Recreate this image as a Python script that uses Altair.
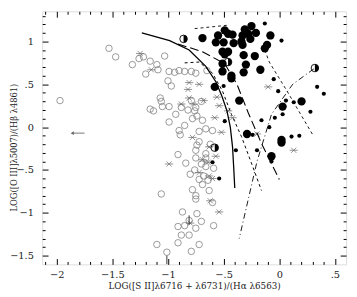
import altair as alt
import pandas as pd

# ---------------- data ----------------
open_x = [-1.53, -1.47, -1.32, -1.26, -1.22, -1.16, -1.10, -1.03, -1.09, -1.97, -0.99, -0.94, -0.90, -0.85, -0.79,
          -0.75, -1.00, -0.97, -1.07, -1.06, -1.13, -0.99, -1.05, -0.99, -0.88, -0.79, -0.75, -0.74, -0.78, -0.82,
          -0.90, -0.89, -0.69, -0.66, -0.60, -0.72, -0.74, -0.75, -0.66, -0.91, -0.84, -0.75, -0.66, -0.76, -0.66,
          -0.59, -0.68, -0.72, -0.78, -0.75, -0.75, -0.63, -0.69, -1.06, -0.60, -0.59, -0.87, -0.85, -0.81, -0.91,
          -0.88, -0.81, -0.91, -0.79, -0.72, -1.10, -1.01, -0.74, -0.75, -0.70, -1.16, -0.76, -0.70, -0.65, -0.85,
          -0.62, -0.80, -0.70, -1.20, -0.93, -0.72, -0.64]
open_y = [0.92, 0.82, 0.73, 0.80, 0.82, 0.77, 0.73, 0.83, 0.67, 0.31, 0.65, 0.64, 0.66, 0.65, 0.65,
          0.63, 0.54, 0.48, 0.34, 0.30, 0.19, 0.06, 0.24, 0.24, 0.23, 0.31, 0.23, 0.13, 0.10, 0.20,
          -0.04, -0.09, 0.08, -0.02, -0.04, -0.17, -0.21, -0.27, -0.31, -0.32, -0.42, -0.36, -0.36, -0.50, -0.46,
          -0.48, -0.57, -0.61, -0.73, -0.80, -0.84, -0.74, -0.67, -0.78, -0.88, -1.15, -0.99, -1.15, -1.09, -1.16,
          -1.26, -1.26, -1.35, -1.45, -1.37, -1.37, -1.46, -1.01, -1.18, -1.10, 0.21, 0.19, 0.30, 0.66, 0.02,
          -0.20, -0.55, -0.43, 0.62, 0.15, -0.05, -0.62]

cross_x = [-1.25, -1.15, -0.81, -0.82, -0.81, -0.77, -0.88, -0.68, -0.72, -0.56, -0.54, -0.58, -0.46, -0.42,
           -0.52, -0.78, -0.99, -0.69, -0.63, -0.57, -0.72, -0.63, -0.54, -0.10, -0.64, -0.60, -0.80, -0.20,
           0.13, -0.62]
cross_y = [0.86, 0.67, 0.52, 0.44, 0.34, 0.27, 0.27, 0.31, 0.50, 0.35, 0.25, 0.11, 0.19, 0.11,
           -0.06, -0.12, -0.43, -0.38, -0.23, -0.34, -0.53, -0.57, -0.99, 0.47, -0.41, -0.60, -1.12, -0.08,
           -0.27, -0.86]

big_x = [-0.69, -0.55, -0.49, -0.46, -0.42, -0.57, -0.50, -0.41, -0.33, -0.28, -0.25, -0.21, -0.31, -0.34,
         -0.26, -0.08, -0.11, -0.13, -0.33, -0.51, -0.46, -0.49, -0.32, -0.22, -0.30, -0.51, -0.17, -0.32,
         -0.51, -0.43, -0.43, -0.58, -0.36, -0.29, 0.03, 0.20, 0.02, 0.02, -0.07]
big_y = [1.04, 1.07, 1.13, 1.09, 1.08, 0.99, 0.99, 0.98, 1.07, 1.09, 1.18, 1.10, 1.14, 1.00,
         1.03, 1.07, 0.96, 0.92, 0.96, 0.88, 0.88, 0.85, 0.84, 0.83, 0.73, 0.74, 0.67, 0.64,
         0.65, 0.60, 0.57, 0.47, 0.31, -0.08, 0.24, 0.30, -0.18, -0.15, -0.34]

small_x = [-0.13, 0.02, -0.05, -0.01, 0.06, 0.13, 0.34, 0.40, 0.28, 0.03, -0.04, -0.16, -0.09, -0.49,
           -0.50, -0.24, -0.39, -0.20, 0.11, 0.18, -0.54, -0.07, -0.60]
small_y = [1.21, 1.01, 0.56, 0.42, 0.31, 0.29, 0.47, 0.39, 0.18, 0.15, 0.11, 0.08, 0.00, 0.07,
           0.48, -0.09, -0.27, -0.27, -0.11, -0.10, -0.60, -0.40, -0.41]

half_x = [-0.86, -0.46, -0.58, 0.32]
half_y = [1.03, 0.76, -0.24, 0.69]

solid_x = [-1.235, -0.985, -0.81, -0.66, -0.57, -0.515, -0.47, -0.44, -0.42, -0.41, -0.40]
solid_y = [1.10, 1.01, 0.90, 0.71, 0.53, 0.36, 0.19, 0.00, -0.23, -0.46, -0.71]

longdash_x = [-0.91, -0.69, -0.49, -0.38, -0.28, -0.16, 0.00]
longdash_y = [0.97, 0.88, 0.74, 0.50, 0.17, -0.19, -0.61]

shortdash_x = [-0.85, -0.72, -0.60, -0.51, -0.43, -0.34, -0.25, -0.16]
shortdash_y = [0.75, 0.76, 0.63, 0.42, 0.15, -0.11, -0.42, -0.74]

topdash_x = [-0.76, -0.46]
topdash_y = [1.15, 1.19]

rightdash_x = [-0.13, -0.09, 0.07, 0.31]
rightdash_y = [0.90, 0.76, 0.42, -0.11]

dashdot_x = [0.31, 0.12, -0.07, -0.20, -0.36]
dashdot_y = [0.68, 0.50, 0.15, -0.40, -1.30]

arrow_x = [-1.01, -0.81]
arrow_y = [-1.50, -1.03]
arrow_y2 = [-1.60, -1.14]

larrow_x = [-1.86]
larrow_x2 = [-1.75]
larrow_y = [-0.07]

x_labels = [-2, -1.5, -1, -0.5, 0, 0.5]
y_labels = [-1.5, -1, -0.5, 0, 0.5, 1]

XTITLE = "LOG([S II]λ6716 + λ6731)/(Hα λ6563)"
YTITLE = "LOG([O III]λ5007)/(Hβ λ4861)"

# ---------------- layout ----------------
W, H = 311, 259
XDOM = [-2.13, 0.6]
YDOM = [-1.602, 1.352]
FONT = "DejaVu Serif"

xs = alt.Scale(domain=XDOM, nice=False, zero=False)
ys = alt.Scale(domain=YDOM, nice=False, zero=False)


def pts(xv, yv):
    return pd.DataFrame({"x": xv, "y": yv, "i": list(range(len(xv)))})


xn = alt.X("x:Q", scale=xs, axis=None)
yn = alt.Y("y:Q", scale=ys, axis=None)

label_expr = "replace(format(datum.value, '.1~f'), '0.', '.')"

major_test = "abs(datum.value*2 - round(datum.value*2)) < 0.001"
tsize = {"condition": {"test": major_test, "value": 6}, "value": 3}
xt = [round(-2.1 + 0.1 * i, 1) for i in range(27)]
yt = [round(-1.5 + 0.1 * i, 1) for i in range(29)]

open_layer = alt.Chart(pts(open_x, open_y)).mark_point(
    shape="circle", filled=False, stroke="#808080", strokeWidth=0.8, size=44, opacity=1
).encode(
    x=alt.X("x:Q", scale=xs, axis=alt.Axis(
        orient="bottom", values=x_labels, labelExpr=label_expr, tickSize=0, domain=False, grid=False,
        labelPadding=5, title=XTITLE, titlePadding=3, labelFontSize=10, titleFontSize=9,
        labelFont=FONT, titleFont=FONT, titleFontWeight="normal", labelColor="#222", titleColor="#222")),
    y=alt.Y("y:Q", scale=ys, axis=alt.Axis(
        orient="left", values=y_labels, labelExpr=label_expr, tickSize=0, domain=False, grid=False,
        labelPadding=9, title=YTITLE, labelFontSize=10, titleFontSize=8.5,
        labelFont=FONT, titleFont=FONT, titleFontWeight="normal", labelColor="#222", titleColor="#222",
        titleX=-24, titleY=139)),
)

tick1 = alt.Chart(pts(open_x, open_y)).mark_point(opacity=0).encode(
    x=alt.X("x:Q", scale=xs, axis=alt.Axis(
        orient="top", offset=-H, values=xt, tickSize=tsize, labels=False, domain=False, grid=False,
        title=None, tickColor="black", tickWidth=1)),
    y=alt.Y("y:Q", scale=ys, axis=alt.Axis(
        orient="right", offset=-W, values=yt, tickSize=tsize, labels=False, domain=False, grid=False,
        title=None, tickColor="black", tickWidth=1)),
)
tick2 = alt.Chart(pts(open_x, open_y)).mark_point(opacity=0).encode(
    x=alt.X("x:Q", scale=xs, axis=alt.Axis(
        orient="bottom", offset=-H, values=xt, tickSize=tsize, labels=False, domain=False, grid=False,
        title=None, tickColor="black", tickWidth=1)),
    y=alt.Y("y:Q", scale=ys, axis=alt.Axis(
        orient="left", offset=-W, values=yt, tickSize=tsize, labels=False, domain=False, grid=False,
        title=None, tickColor="black", tickWidth=1)),
)

cross_layer = alt.Chart(pts(cross_x, cross_y)).mark_point(
    shape="M-1,-1L1,1M-1,1L1,-1M-1.6,0L1.6,0", filled=False, stroke="#666", strokeWidth=0.7, size=28, opacity=1
).encode(x=xn, y=yn)

big_layer = alt.Chart(pts(big_x, big_y)).mark_circle(color="black", size=72, opacity=1).encode(x=xn, y=yn)
small_layer = alt.Chart(pts(small_x, small_y)).mark_circle(color="black", size=18, opacity=1).encode(x=xn, y=yn)

half_outline = alt.Chart(pts(half_x, half_y)).mark_point(
    shape="circle", filled=False, stroke="black", strokeWidth=0.9, size=60, opacity=1).encode(x=xn, y=yn)
half_fill = alt.Chart(pts(half_x, half_y)).mark_point(
    shape="M0,-1A1,1,0,0,1,0,1Z", filled=True, color="black", size=60, opacity=1).encode(x=xn, y=yn)


def line(xv, yv, dash=None, width=1.0):
    kw = dict(color="black", strokeWidth=width)
    if dash:
        kw["strokeDash"] = dash
    return alt.Chart(pts(xv, yv)).mark_line(**kw).encode(x=xn, y=yn, order="i:Q")


solid = line(solid_x, solid_y, None, 1.3)
longdash = line(longdash_x, longdash_y, [9, 4], 1.1)
shortdash = line(shortdash_x, shortdash_y, [3, 3], 1.0)
topdash = line(topdash_x, topdash_y, [3, 3], 0.9)
rightdash = line(rightdash_x, rightdash_y, [3, 3], 0.9)
dashdot = line(dashdot_x, dashdot_y, [6, 3, 1, 3], 0.9)

arrows = alt.Chart(pd.DataFrame({"x": arrow_x, "y": arrow_y, "y2": arrow_y2})).mark_rule(
    color="#333", strokeWidth=1).encode(x=xn, y=yn, y2="y2:Q")
larrow = alt.Chart(pd.DataFrame({"x": larrow_x, "x2": larrow_x2, "y": larrow_y})).mark_rule(
    color="#666", strokeWidth=0.9).encode(x=xn, x2="x2:Q", y=yn)
larrow_head = alt.Chart(pts(larrow_x, larrow_y)).mark_point(
    shape="triangle-left", filled=True, color="#666", size=14, opacity=1).encode(x=xn, y=yn)

chart = alt.layer(
    open_layer, tick1, tick2, cross_layer, solid, longdash, shortdash, topdash, rightdash, dashdot,
    big_layer, small_layer, half_outline, half_fill, arrows, larrow, larrow_head
).resolve_axis(x="independent", y="independent").properties(
    width=W, height=H, autosize="none",
    padding={"left": 35, "top": 0, "right": 3, "bottom": 30},
).configure_view(stroke="black", strokeWidth=1.2).configure(background="white")

chart.save("out.html", embed_options={"renderer": "svg", "actions": False})
